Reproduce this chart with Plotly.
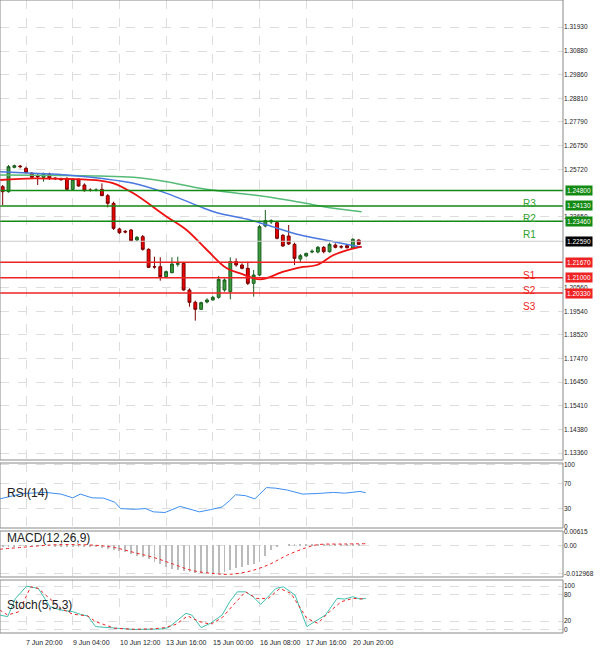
import plotly.graph_objects as go

# ---- data ----
opens = [1.24970,1.24752,1.25812,1.25871,1.25769,1.25551,1.25435,1.25377,1.25522,1.25348,1.25304,1.25333,1.24853,1.25290,1.25042,1.24824,1.24810,1.24853,1.24577,1.24243,1.23124,1.23023,1.23081,1.22645,1.22790,1.22238,1.21483,1.21483,1.21047,1.21221,1.21584,1.21628,1.20465,1.19928,1.19623,1.19942,1.20030,1.20146,1.20466,1.20393,1.21701,1.21555,1.21410,1.20756,1.21120,1.23255,1.23430,1.23401,1.22848,1.22819,1.22456,1.21817,1.21948,1.22122,1.22122,1.22325,1.22136,1.22427,1.22354,1.22398,1.22282,1.22645]
highs = [1.25042,1.25914,1.25929,1.25914,1.25842,1.25609,1.25551,1.25580,1.25580,1.25377,1.25362,1.25377,1.25333,1.25333,1.25115,1.24897,1.24897,1.25115,1.24650,1.24316,1.23183,1.23081,1.23124,1.22819,1.22863,1.22282,1.21918,1.21889,1.21308,1.21889,1.21918,1.21687,1.20538,1.20001,1.19957,1.20102,1.20204,1.21076,1.20974,1.21889,1.21846,1.21628,1.21701,1.21337,1.23299,1.23953,1.23546,1.23444,1.22907,1.23299,1.22529,1.22035,1.22064,1.22238,1.22383,1.22383,1.22529,1.22500,1.22427,1.22442,1.22718,1.22674]
lows = [1.24170,1.24708,1.25769,1.25769,1.25551,1.25333,1.25042,1.25188,1.25260,1.25260,1.25231,1.24824,1.24824,1.24970,1.24752,1.24752,1.24766,1.24563,1.24069,1.23081,1.22907,1.22936,1.22587,1.22601,1.22180,1.21424,1.21395,1.20872,1.21003,1.21192,1.21483,1.20436,1.19739,1.19129,1.19594,1.19884,1.20001,1.20088,1.20393,1.20059,1.21483,1.21366,1.20683,1.20175,1.21076,1.23197,1.23343,1.22674,1.22354,1.22427,1.21555,1.21657,1.21918,1.22064,1.22064,1.22064,1.22093,1.22282,1.22267,1.22267,1.22253,1.22427]
closes = [1.24752,1.25842,1.25885,1.25842,1.25580,1.25377,1.25406,1.25522,1.25333,1.25319,1.25275,1.24853,1.25290,1.24999,1.24795,1.24810,1.24824,1.24577,1.24243,1.23153,1.22965,1.22994,1.22616,1.22761,1.22238,1.21453,1.21468,1.21047,1.21265,1.21599,1.21613,1.20465,1.19928,1.19623,1.19913,1.20030,1.20146,1.20931,1.20901,1.21701,1.21555,1.21410,1.20756,1.21120,1.23226,1.23488,1.23488,1.22718,1.22383,1.22471,1.21846,1.21962,1.22064,1.22151,1.22325,1.22136,1.22456,1.22325,1.22340,1.22311,1.22674,1.22456]

ma_red_x = [-0.5,5.3,11,16.7,19,22.4,28.1,31.5,35,38.4,40.7,44.1,48.1,51,53.8,56.7,59.5,61.5]
ma_red_y = [1.25260,1.25333,1.25304,1.25231,1.25115,1.24679,1.23662,1.23081,1.22209,1.21410,1.21192,1.20931,1.21265,1.21453,1.21555,1.21991,1.22238,1.22354]
ma_blue_x = [-0.5,5.3,11,16.7,22.4,28.1,33.8,36.7,42.4,45.3,51,56.7,61.5]
ma_blue_y = [1.25624,1.25551,1.25478,1.25333,1.25115,1.24679,1.24098,1.23836,1.23517,1.23299,1.22863,1.22572,1.22325]
ma_green_x = [-0.5,16.7,22.4,28.1,33.8,39.5,45.3,51,56.7,61.5]
ma_green_y = [1.25480,1.25435,1.25377,1.25188,1.24897,1.24708,1.24534,1.24287,1.24025,1.23880]

res_levels = [1.24800,1.24130,1.23460]
res_names = ["R3","R2","R1"]
sup_levels = [1.21670,1.21000,1.20330]
sup_names = ["S1","S2","S3"]
current_price = 1.22590
price_ticks = [1.31930,1.30880,1.29860,1.28810,1.27790,1.26750,1.25720,1.23650,1.20560,1.19540,1.18520,1.17470,1.16450,1.15410,1.14380,1.13360]

rsi_x = [-0.5,0.9,3.5,7.4,10,12,13.3,15.3,17.3,19.2,20.2,22.5,24.5,25.8,27.8,30.4,31.7,33.7,35.6,37.6,38.9,39.9,41.6,43.2,45.2,46.8,48.8,51.4,54,56.7,58.6,61.2,62.2]
rsi_y = [45.3,48,54,55.7,53,47,53,47,46.5,40,29.7,28.6,29.7,24.5,23.4,33.3,29.7,24.5,28,32.3,42.7,52,50.5,45.3,63.5,62.5,59.4,53,54,55.7,54.5,57.3,55.2]

macd_hist = [-0.0008,-0.0006,-0.0004,-0.0003,-0.0002,-0.0002,-0.0002,-0.0003,-0.0003,-0.0004,
             -0.0004,-0.0005,-0.0005,-0.0006,-0.0007,-0.0008,-0.0010,-0.0012,-0.0015,-0.0020,
             -0.0026,-0.0032,-0.0040,-0.0048,-0.0056,-0.0065,-0.0075,-0.0088,-0.0100,-0.0110,
             -0.0116,-0.0120,-0.0123,-0.0126,-0.0128,-0.0129,-0.0130,-0.0127,-0.0122,-0.0116,
             -0.0106,-0.0100,-0.0092,-0.0085,-0.0076,-0.0050,-0.0020,-0.0008,0.0000,0.0002,
             0.0002,0.0002,0.0003,0.0002,0.0002,0.0002,0.0003,0.0002,0.0002,0.0002,0.0003,0.0003]
macd_sig_x = [-0.5,6.1,9.4,16,19.2,22.5,25.8,29.1,32.4,36.3,38.9,42.2,45.5,48.8,52.1,54,58.6,62.2]
macd_sig_y = [-0.0018,-0.0003,0.0003,0.0,-0.00105,-0.0033,-0.00555,-0.00855,-0.01155,-0.01305,-0.01335,-0.0120,-0.0090,-0.0045,-0.0010,0.0003,0.0006,0.00075]

st_main_x = [-0.5,0.85,2.2,4.1,6.1,8.1,10,12,13.3,14.6,15.9,19.2,22.5,24.5,27.1,28.4,29.7,31.4,32.4,34.0,35.6,37.6,38.9,40.2,41.6,42.9,44.2,45.5,46.8,48.1,50.1,52.1,54,55.3,57.3,58.6,60,61.2,62.2]
st_main_y = [34,30.3,72,100,94.7,53,45.5,41.7,35.6,31.8,7.6,3.8,1,1.5,2,5.3,19,37.9,34,5.3,15.2,34,64.4,87,87,75.8,58.3,75.8,94.7,98.5,79.5,7.6,22.7,34,72,70.5,75.8,70.5,72]
st_sig_x = [-0.5,0.85,2.8,4.8,6.1,8.1,10,12,14.6,15.9,19.2,22.5,25.8,27.8,29.7,31.7,33.7,35.6,37.6,39.6,41.6,43.5,45.5,47.5,49.4,52.1,54,56,58,60,62.2]
st_sig_y = [45.5,34,41.7,98.5,94.7,72,49,36,31.8,19,3.8,1.5,2.5,5.3,12.9,31.8,19,12.9,28,58.3,87,72,72,94.7,83.3,26.5,15.2,41.7,64.4,72,70.5]

xtick_pos = [4,12,20,28,36,44,52,60]
xtick_text = ["7 Jun 20:00","9 Jun 04:00","10 Jun 12:00","13 Jun 16:00","15 Jun 00:00","16 Jun 08:00","17 Jun 16:00","20 Jun 20:00"]

# ---- figure ----
H = 653.0
def dom(top, bot):
    return [1 - bot / H, 1 - top / H]

idx = list(range(len(opens)))
fig = go.Figure()

fig.add_trace(go.Candlestick(x=idx, open=opens, high=highs, low=lows, close=closes,
    increasing=dict(line=dict(color="#1b5e20", width=1), fillcolor="#3a9a3a"),
    decreasing=dict(line=dict(color="#7a0000", width=1), fillcolor="#ee0000"),
    whiskerwidth=0, showlegend=False, xaxis="x", yaxis="y"))
fig.add_trace(go.Scatter(x=ma_green_x, y=ma_green_y, mode="lines", line=dict(color="#55bb77", width=1.5, shape="spline"), xaxis="x", yaxis="y", showlegend=False))
fig.add_trace(go.Scatter(x=ma_blue_x, y=ma_blue_y, mode="lines", line=dict(color="#4a78e0", width=1.5, shape="spline"), xaxis="x", yaxis="y", showlegend=False))
fig.add_trace(go.Scatter(x=ma_red_x, y=ma_red_y, mode="lines", line=dict(color="#ee1111", width=1.8, shape="spline"), xaxis="x", yaxis="y", showlegend=False))

shapes = []
annots = []
XR = 563 / 600
LF = dict(size=6.5, color="white", family="Liberation Sans")
for lv, nm in zip(res_levels, res_names):
    shapes.append(dict(type="line", xref="paper", yref="y", x0=0, x1=XR, y0=lv, y1=lv, line=dict(color="#138a13", width=1.5)))
    annots.append(dict(xref="paper", yref="y", x=XR + 0.004, y=lv, text=f"{lv:.5f}", showarrow=False, xanchor="left",
                       font=LF, bgcolor="#138a13", borderpad=1))
    annots.append(dict(xref="paper", yref="y", x=538 / 600, y=lv, yshift=-13, text=nm, showarrow=False,
                       font=dict(size=10, color="#2ca02c", family="Liberation Sans")))
for lv, nm in zip(sup_levels, sup_names):
    shapes.append(dict(type="line", xref="paper", yref="y", x0=0, x1=XR, y0=lv, y1=lv, line=dict(color="#ee2222", width=1.5)))
    annots.append(dict(xref="paper", yref="y", x=XR + 0.004, y=lv, text=f"{lv:.5f}", showarrow=False, xanchor="left",
                       font=LF, bgcolor="#ee2222", borderpad=1))
    annots.append(dict(xref="paper", yref="y", x=538 / 600, y=lv, yshift=-13, text=nm, showarrow=False,
                       font=dict(size=10, color="#ee2222", family="Liberation Sans")))
shapes.append(dict(type="line", xref="paper", yref="y", x0=0, x1=XR, y0=current_price, y1=current_price, line=dict(color="#cccccc", width=1)))
annots.append(dict(xref="paper", yref="y", x=XR + 0.004, y=current_price, text=f"{current_price:.5f}", showarrow=False, xanchor="left",
                   font=LF, bgcolor="black", borderpad=1))

# RSI
fig.add_trace(go.Scatter(x=rsi_x, y=rsi_y, mode="lines", line=dict(color="#3d8ef0", width=1), xaxis="x2", yaxis="y2", showlegend=False))
# MACD
fig.add_trace(go.Bar(x=idx, y=macd_hist, marker=dict(color="#bbbbbb", line=dict(width=0)), width=0.15, xaxis="x3", yaxis="y3", showlegend=False))
fig.add_trace(go.Scatter(x=macd_sig_x, y=macd_sig_y, mode="lines", line=dict(color="#ee2222", width=1, dash="dot", shape="spline"), xaxis="x3", yaxis="y3", showlegend=False))
# Stoch
fig.add_trace(go.Scatter(x=st_main_x, y=st_main_y, mode="lines", line=dict(color="#40c0b0", width=1), xaxis="x4", yaxis="y4", showlegend=False))
fig.add_trace(go.Scatter(x=st_sig_x, y=st_sig_y, mode="lines", line=dict(color="#ee2222", width=1, dash="dot"), xaxis="x4", yaxis="y4", showlegend=False))

for nm, yy in [("RSI(14)", 493), ("MACD(12,26,9)", 538), ("Stoch(5,5,3)", 605)]:
    annots.append(dict(xref="paper", yref="paper", x=5 / 600, y=1 - yy / H, yanchor="middle", text=nm, showarrow=False, xanchor="left",
                       font=dict(size=12, color="#222", family="Liberation Sans")))
for p, t in zip(xtick_pos, xtick_text):
    annots.append(dict(xref="x4", yref="paper", x=p - 0.3, y=1 - 642 / H, yanchor="middle", text=t, showarrow=False, xanchor="left",
                       font=dict(size=7, color="#222", family="Liberation Sans")))

# panel borders
for top, bot in [(0, 460), (463, 528), (531, 577), (580, 633)]:
    shapes.append(dict(type="rect", xref="paper", yref="paper", x0=0, x1=XR, y0=1 - bot / H, y1=1 - top / H,
                       line=dict(color="#888888", width=1)))

xr = [-0.46, 96.0]
gx = dict(range=xr, showticklabels=False, tickvals=xtick_pos, showgrid=True, gridcolor="#dddddd", griddash="dash",
          zeroline=False, domain=[0, XR], fixedrange=True, automargin=False)
tf = dict(size=6.5, color="#222", family="Liberation Sans")
gy = dict(side="right", showgrid=True, gridcolor="#dddddd", griddash="dash", zeroline=False, tickfont=tf,
          ticks="", ticklen=0, automargin=False)

fig.update_layout(
    width=600, height=653, margin=dict(l=0, r=0, t=0, b=0, pad=0),
    paper_bgcolor="white", plot_bgcolor="white", bargap=0,
    xaxis=dict(gx, rangeslider=dict(visible=False)),
    xaxis2=dict(gx, matches="x", anchor="y2"),
    xaxis3=dict(gx, matches="x", anchor="y3"),
    xaxis4=dict(gx, matches="x", anchor="y4"),
    yaxis=dict(gy, domain=dom(0, 460), range=[1.13055, 1.33107], tickvals=price_ticks,
               ticktext=[f"{v:.5f}" for v in price_ticks], anchor="x"),
    yaxis2=dict(gy, domain=dom(463, 528), range=[-1.5, 103], tickvals=[0, 30, 70, 100], anchor="x2"),
    yaxis3=dict(gy, domain=dom(531, 577), range=[-0.0146, 0.0066], tickvals=[-0.012968, 0.0, 0.00615],
                ticktext=["-0.012968", "0.00", "0.00615"], anchor="x3"),
    yaxis4=dict(gy, domain=dom(580, 633), range=[-7, 114], tickvals=[0, 20, 80, 100], anchor="x4"),
    shapes=shapes, annotations=annots,
)
fig.write_html("out.html", config={"displayModeBar": False},
               post_script="document.body.style.margin='0';document.body.style.overflow='hidden';")
